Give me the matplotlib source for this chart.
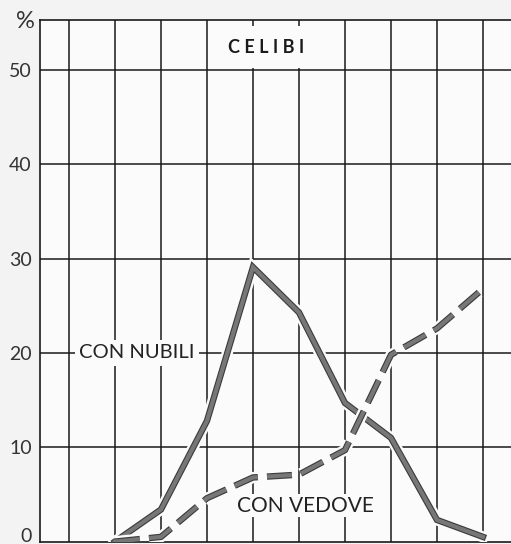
import matplotlib.pyplot as plt
import matplotlib.patheffects as pe

# categories along x (unlabelled classes in the original)
classes = [0, 1, 2, 3, 4, 5, 6, 7, 8]
con_nubili = [0, 3.4, 12.8, 29.1, 24.3, 14.7, 11.0, 2.3, 0.5]
con_vedove = [0, 0.5, 4.6, 6.8, 7.1, 9.7, 19.8, 22.6, 26.8]
y_ticks = [0, 10, 20, 30, 40, 50]
x_grid = [-1, 0, 1, 2, 3, 4, 5, 6, 7, 8]

plt.rcParams['font.family'] = ['Lato', 'DejaVu Sans']

fig = plt.figure(figsize=(5.11, 5.44), dpi=100, facecolor='#f3f3f3')
ax = fig.add_axes([40 / 511, 2.4 / 544, 1 - 40 / 511, (541.6 - 20) / 544])
ax.set_facecolor('#fbfbfb')
ax.set_xlim(-1.63, 8.61)
ax.set_ylim(0, 55.3)

# grid
for x in x_grid:
    ax.axvline(x, color='#1a1a1a', lw=1.1, zorder=1)
for y in y_ticks[1:]:
    ax.axhline(y, color='#1a1a1a', lw=1.1, zorder=1)
for s in ['left', 'top', 'bottom']:
    ax.spines[s].set_color('#1a1a1a')
    ax.spines[s].set_linewidth(1.2)
ax.spines['right'].set_visible(False)

ax.set_xticks([])
ax.set_yticks(y_ticks)
ax.set_yticklabels([str(v) for v in y_ticks], fontsize=14, color='#333333')
ax.tick_params(axis='y', length=0, pad=6)
# the bottom label sits at the very edge; put its baseline on the axis
ax.get_yticklabels()[0].set_va('baseline')

effects = [pe.Stroke(linewidth=8, foreground='#fbfbfb'),
           pe.Stroke(linewidth=4.6, foreground='#3a3a3a'),
           pe.Normal()]
ax.plot(classes, con_nubili, color='#777777', lw=3, zorder=3,
        solid_joinstyle='miter', path_effects=effects)
ax.plot(classes, con_vedove, color='#777777', lw=3, zorder=3,
        dashes=(6, 2.2), path_effects=effects)

ax.text(3.28, 52.4, 'C E L I B I', fontsize=13, ha='center', va='center',
        color='#1a1a1a', fontweight='bold',
        bbox=dict(facecolor='#fbfbfb', edgecolor='none', pad=9), zorder=4)
ax.text(0.48, 20, 'CON NUBILI', fontsize=14.5, ha='center', va='center',
        color='#222222',
        bbox=dict(facecolor='#fbfbfb', edgecolor='none', pad=3), zorder=4)
ax.text(4.15, 3.8, 'CON VEDOVE', fontsize=15, ha='center', va='center',
        color='#222222',
        bbox=dict(facecolor='#fbfbfb', edgecolor='none', pad=1), zorder=4)

fig.text(25 / 511, 1 - 22 / 544, '%', fontsize=17, ha='center', va='center',
         color='#333333')

fig.savefig('out.png', dpi=100, facecolor=fig.get_facecolor())
